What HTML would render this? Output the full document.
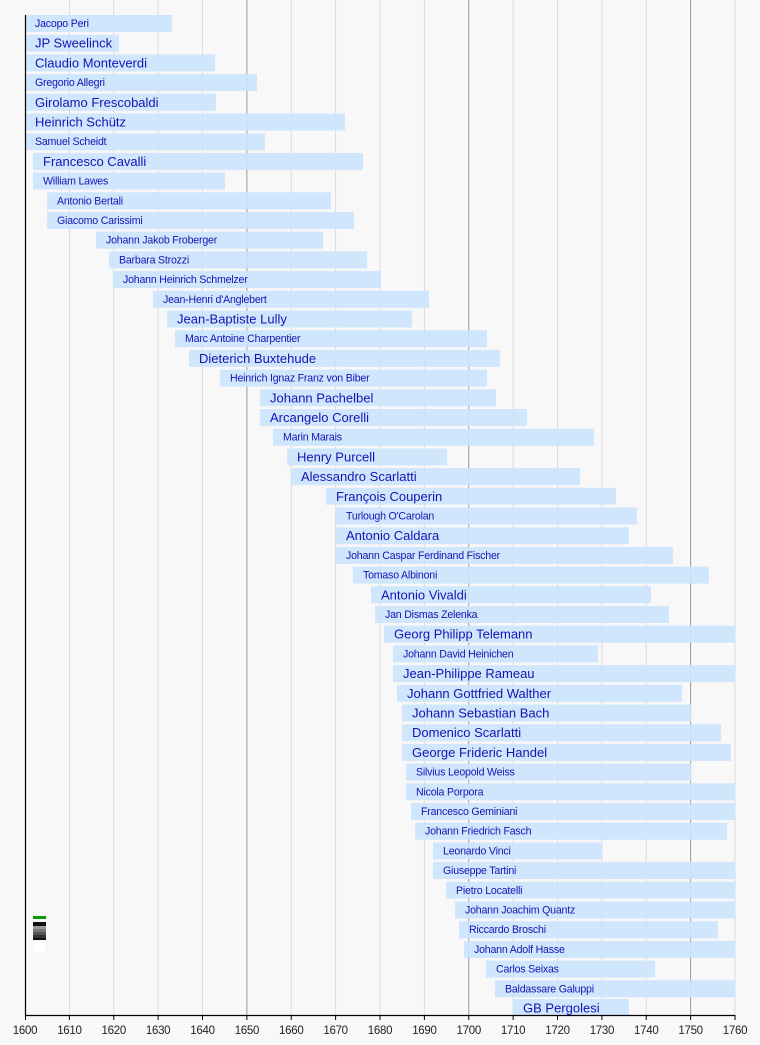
<!DOCTYPE html>
<html><head><meta charset="utf-8"><style>
html,body{margin:0;padding:0;background:#f8f8f8}
svg{display:block}
text{font-family:"Liberation Sans",sans-serif;fill:#1414b4}
.s{font-size:10.6px;letter-spacing:-0.2px}
.b{font-size:13px}
rect.r{fill:#cce4fd;opacity:0.92}
.t{font-size:11.5px;fill:#222;text-anchor:middle;letter-spacing:-0.3px}
</style></head><body>
<svg width="760" height="1045" viewBox="0 0 760 1045" xmlns="http://www.w3.org/2000/svg">
<rect width="760" height="1045" fill="#f8f8f8"/>
<g stroke="#dcdcdc" stroke-width="1">
<line x1="69.4" y1="0" x2="69.4" y2="1015"/><line x1="113.75" y1="0" x2="113.75" y2="1015"/><line x1="158.1" y1="0" x2="158.1" y2="1015"/><line x1="202.5" y1="0" x2="202.5" y2="1015"/><line x1="291.25" y1="0" x2="291.25" y2="1015"/><line x1="335.6" y1="0" x2="335.6" y2="1015"/><line x1="380" y1="0" x2="380" y2="1015"/><line x1="424.4" y1="0" x2="424.4" y2="1015"/><line x1="513.1" y1="0" x2="513.1" y2="1015"/><line x1="557.5" y1="0" x2="557.5" y2="1015"/><line x1="601.9" y1="0" x2="601.9" y2="1015"/><line x1="646.25" y1="0" x2="646.25" y2="1015"/><line x1="735" y1="0" x2="735" y2="1015"/>
</g>
<g stroke="#9a9a9a" stroke-width="1">
<line x1="246.9" y1="0" x2="246.9" y2="1015"/><line x1="468.75" y1="0" x2="468.75" y2="1015"/><line x1="690.6" y1="0" x2="690.6" y2="1015"/>
</g>
<g transform="translate(0,15)"><rect class="r" x="25" width="147" height="17"/><text class="s" x="35" y="12">Jacopo Peri</text></g>
<g transform="translate(0,34.7)"><rect class="r" x="25" width="94" height="17"/><text class="b" x="35" y="13">JP Sweelinck</text></g>
<g transform="translate(0,54.4)"><rect class="r" x="25" width="190" height="17"/><text class="b" x="35" y="13">Claudio Monteverdi</text></g>
<g transform="translate(0,74.1)"><rect class="r" x="25" width="232" height="17"/><text class="s" x="35" y="12">Gregorio Allegri</text></g>
<g transform="translate(0,93.8)"><rect class="r" x="25" width="191" height="17"/><text class="b" x="35" y="13">Girolamo Frescobaldi</text></g>
<g transform="translate(0,113.5)"><rect class="r" x="25" width="320" height="17"/><text class="b" x="35" y="13">Heinrich Schütz</text></g>
<g transform="translate(0,133.2)"><rect class="r" x="25" width="240" height="17"/><text class="s" x="35" y="12">Samuel Scheidt</text></g>
<g transform="translate(0,152.9)"><rect class="r" x="33" width="330" height="17"/><text class="b" x="43" y="13">Francesco Cavalli</text></g>
<g transform="translate(0,172.6)"><rect class="r" x="33" width="192" height="17"/><text class="s" x="43" y="12">William Lawes</text></g>
<g transform="translate(0,192.3)"><rect class="r" x="47" width="284" height="17"/><text class="s" x="57" y="12">Antonio Bertali</text></g>
<g transform="translate(0,212)"><rect class="r" x="47" width="307" height="17"/><text class="s" x="57" y="12">Giacomo Carissimi</text></g>
<g transform="translate(0,231.7)"><rect class="r" x="96" width="227" height="17"/><text class="s" x="106" y="12">Johann Jakob Froberger</text></g>
<g transform="translate(0,251.4)"><rect class="r" x="109" width="258" height="17"/><text class="s" x="119" y="12">Barbara Strozzi</text></g>
<g transform="translate(0,271.1)"><rect class="r" x="113" width="268" height="17"/><text class="s" x="123" y="12">Johann Heinrich Schmelzer</text></g>
<g transform="translate(0,290.8)"><rect class="r" x="153" width="276" height="17"/><text class="s" x="163" y="12">Jean-Henri d'Anglebert</text></g>
<g transform="translate(0,310.5)"><rect class="r" x="167" width="245" height="17"/><text class="b" x="177" y="13">Jean-Baptiste Lully</text></g>
<g transform="translate(0,330.2)"><rect class="r" x="175" width="312" height="17"/><text class="s" x="185" y="12">Marc Antoine Charpentier</text></g>
<g transform="translate(0,349.9)"><rect class="r" x="189" width="311" height="17"/><text class="b" x="199" y="13">Dieterich Buxtehude</text></g>
<g transform="translate(0,369.6)"><rect class="r" x="220" width="267" height="17"/><text class="s" x="230" y="12">Heinrich Ignaz Franz von Biber</text></g>
<g transform="translate(0,389.3)"><rect class="r" x="260" width="236" height="17"/><text class="b" x="270" y="13">Johann Pachelbel</text></g>
<g transform="translate(0,409)"><rect class="r" x="260" width="267" height="17"/><text class="b" x="270" y="13">Arcangelo Corelli</text></g>
<g transform="translate(0,428.7)"><rect class="r" x="273" width="321" height="17"/><text class="s" x="283" y="12">Marin Marais</text></g>
<g transform="translate(0,448.4)"><rect class="r" x="287" width="160" height="17"/><text class="b" x="297" y="13">Henry Purcell</text></g>
<g transform="translate(0,468.1)"><rect class="r" x="291" width="289" height="17"/><text class="b" x="301" y="13">Alessandro Scarlatti</text></g>
<g transform="translate(0,487.8)"><rect class="r" x="326" width="290" height="17"/><text class="b" x="336" y="13">François Couperin</text></g>
<g transform="translate(0,507.5)"><rect class="r" x="336" width="301" height="17"/><text class="s" x="346" y="12">Turlough O'Carolan</text></g>
<g transform="translate(0,527.2)"><rect class="r" x="336" width="293" height="17"/><text class="b" x="346" y="13">Antonio Caldara</text></g>
<g transform="translate(0,546.9)"><rect class="r" x="336" width="337" height="17"/><text class="s" x="346" y="12">Johann Caspar Ferdinand Fischer</text></g>
<g transform="translate(0,566.6)"><rect class="r" x="353" width="356" height="17"/><text class="s" x="363" y="12">Tomaso Albinoni</text></g>
<g transform="translate(0,586.3)"><rect class="r" x="371" width="280" height="17"/><text class="b" x="381" y="13">Antonio Vivaldi</text></g>
<g transform="translate(0,606)"><rect class="r" x="375" width="294" height="17"/><text class="s" x="385" y="12">Jan Dismas Zelenka</text></g>
<g transform="translate(0,625.7)"><rect class="r" x="384" width="351" height="17"/><text class="b" x="394" y="13">Georg Philipp Telemann</text></g>
<g transform="translate(0,645.4)"><rect class="r" x="393" width="205" height="17"/><text class="s" x="403" y="12">Johann David Heinichen</text></g>
<g transform="translate(0,665.1)"><rect class="r" x="393" width="342" height="17"/><text class="b" x="403" y="13">Jean-Philippe Rameau</text></g>
<g transform="translate(0,684.8)"><rect class="r" x="397" width="285" height="17"/><text class="b" x="407" y="13">Johann Gottfried Walther</text></g>
<g transform="translate(0,704.5)"><rect class="r" x="402" width="289" height="17"/><text class="b" x="412" y="13">Johann Sebastian Bach</text></g>
<g transform="translate(0,724.2)"><rect class="r" x="402" width="319" height="17"/><text class="b" x="412" y="13">Domenico Scarlatti</text></g>
<g transform="translate(0,743.9)"><rect class="r" x="402" width="329" height="17"/><text class="b" x="412" y="13">George Frideric Handel</text></g>
<g transform="translate(0,763.6)"><rect class="r" x="406" width="285" height="17"/><text class="s" x="416" y="12">Silvius Leopold Weiss</text></g>
<g transform="translate(0,783.3)"><rect class="r" x="406" width="329" height="17"/><text class="s" x="416" y="12">Nicola Porpora</text></g>
<g transform="translate(0,803)"><rect class="r" x="411" width="324" height="17"/><text class="s" x="421" y="12">Francesco Geminiani</text></g>
<g transform="translate(0,822.7)"><rect class="r" x="415" width="312" height="17"/><text class="s" x="425" y="12">Johann Friedrich Fasch</text></g>
<g transform="translate(0,842.4)"><rect class="r" x="433" width="169" height="17"/><text class="s" x="443" y="12">Leonardo Vinci</text></g>
<g transform="translate(0,862.1)"><rect class="r" x="433" width="302" height="17"/><text class="s" x="443" y="12">Giuseppe Tartini</text></g>
<g transform="translate(0,881.8)"><rect class="r" x="446" width="289" height="17"/><text class="s" x="456" y="12">Pietro Locatelli</text></g>
<g transform="translate(0,901.5)"><rect class="r" x="455" width="280" height="17"/><text class="s" x="465" y="12">Johann Joachim Quantz</text></g>
<g transform="translate(0,921.2)"><rect class="r" x="459" width="259" height="17"/><text class="s" x="469" y="12">Riccardo Broschi</text></g>
<g transform="translate(0,940.9)"><rect class="r" x="464" width="271" height="17"/><text class="s" x="474" y="12">Johann Adolf Hasse</text></g>
<g transform="translate(0,960.6)"><rect class="r" x="486" width="169" height="17"/><text class="s" x="496" y="12">Carlos Seixas</text></g>
<g transform="translate(0,980.3)"><rect class="r" x="495" width="240" height="17"/><text class="s" x="505" y="12">Baldassare Galuppi</text></g>
<g transform="translate(0,999)"><rect class="r" x="513" width="116" height="16"/><text class="b" x="523" y="13.5">GB Pergolesi</text></g>
<rect x="33" y="916" width="13" height="3" fill="#0a9a0a"/>
<rect x="33" y="922" width="13" height="4" fill="#111"/>
<rect x="33" y="926" width="13" height="3" fill="#999"/>
<rect x="33" y="929" width="13" height="3" fill="#777"/>
<rect x="33" y="932" width="13" height="3" fill="#555"/>
<rect x="33" y="935" width="13" height="3" fill="#333"/>
<rect x="33" y="938" width="13" height="2" fill="#111"/>
<rect x="34" y="941" width="11" height="12" fill="#ffffff"/>
<line x1="25.5" y1="15" x2="25.5" y2="1016" stroke="#000" stroke-width="1.2"/>
<line x1="25" y1="1015.5" x2="735.5" y2="1015.5" stroke="#000" stroke-width="1.2"/>
<g stroke="#000" stroke-width="1">
<line x1="25.5" y1="1015" x2="25.5" y2="1020"/><line x1="69.4" y1="1015" x2="69.4" y2="1020"/><line x1="113.75" y1="1015" x2="113.75" y2="1020"/><line x1="158.1" y1="1015" x2="158.1" y2="1020"/><line x1="202.5" y1="1015" x2="202.5" y2="1020"/><line x1="246.9" y1="1015" x2="246.9" y2="1020"/><line x1="291.25" y1="1015" x2="291.25" y2="1020"/><line x1="335.6" y1="1015" x2="335.6" y2="1020"/><line x1="380" y1="1015" x2="380" y2="1020"/><line x1="424.4" y1="1015" x2="424.4" y2="1020"/><line x1="468.75" y1="1015" x2="468.75" y2="1020"/><line x1="513.1" y1="1015" x2="513.1" y2="1020"/><line x1="557.5" y1="1015" x2="557.5" y2="1020"/><line x1="601.9" y1="1015" x2="601.9" y2="1020"/><line x1="646.25" y1="1015" x2="646.25" y2="1020"/><line x1="690.6" y1="1015" x2="690.6" y2="1020"/><line x1="735" y1="1015" x2="735" y2="1020"/>
</g>
<g>
<text class="t" x="25" y="1034">1600</text><text class="t" x="69.4" y="1034">1610</text><text class="t" x="113.75" y="1034">1620</text><text class="t" x="158.1" y="1034">1630</text><text class="t" x="202.5" y="1034">1640</text><text class="t" x="246.9" y="1034">1650</text><text class="t" x="291.25" y="1034">1660</text><text class="t" x="335.6" y="1034">1670</text><text class="t" x="380" y="1034">1680</text><text class="t" x="424.4" y="1034">1690</text><text class="t" x="468.75" y="1034">1700</text><text class="t" x="513.1" y="1034">1710</text><text class="t" x="557.5" y="1034">1720</text><text class="t" x="601.9" y="1034">1730</text><text class="t" x="646.25" y="1034">1740</text><text class="t" x="690.6" y="1034">1750</text><text class="t" x="735" y="1034">1760</text>
</g>
</svg>
</body></html>
